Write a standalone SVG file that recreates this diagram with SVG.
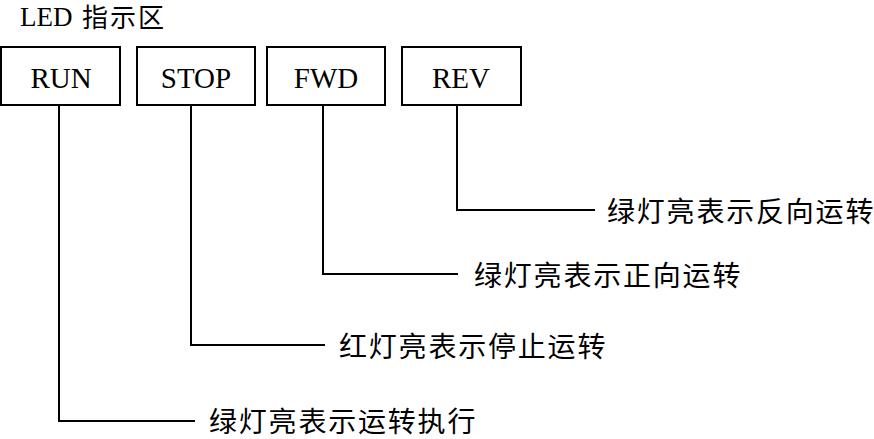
<svg xmlns="http://www.w3.org/2000/svg" width="874" height="439" viewBox="0 0 874 439">
<style>
.box{fill:#fff;stroke:#000;stroke-width:2}
.lbl{font-family:"Liberation Serif","Noto Sans CJK SC",serif;font-size:29px;fill:#000;text-anchor:middle}
.cn{font-family:"Noto Sans CJK SC","Noto Sans CJK JP",sans-serif;font-size:28px;letter-spacing:1.8px;fill:#000}
.conn{fill:none;stroke:#000;stroke-width:2}
</style>
<rect width="874" height="439" fill="#fff"/>
<g id="title">
<text x="20" y="26" font-family="'Liberation Serif',serif" font-size="27">LED</text>
<text x="82" y="27" font-family="'Noto Sans CJK SC',sans-serif" font-size="26" letter-spacing="2">指示区</text>
</g>
<g id="run"><rect class="box" x="1" y="47" width="119" height="58"/><text class="lbl" x="61" y="88">RUN</text></g>
<g id="stop"><rect class="box" x="137" y="47" width="118" height="58"/><text class="lbl" x="196" y="88">STOP</text></g>
<g id="fwd"><rect class="box" x="267" y="47" width="118" height="58"/><text class="lbl" x="326" y="88">FWD</text></g>
<g id="rev"><rect class="box" x="402" y="47" width="119" height="58"/><text class="lbl" x="461" y="88">REV</text></g>
<g id="connectors">
<polyline class="conn" points="457,105 457,210 595,210"/>
<polyline class="conn" points="323,105 323,274 458,274"/>
<polyline class="conn" points="191,105 191,345 325,345"/>
<polyline class="conn" points="59,105 59,421 195,421"/>
</g>
<g id="t-rev"><text class="cn" x="607" y="222">绿灯亮表示反向运转</text></g>
<g id="t-fwd"><text class="cn" x="474" y="286">绿灯亮表示正向运转</text></g>
<g id="t-stop"><text class="cn" x="339" y="357">红灯亮表示停止运转</text></g>
<g id="t-run"><text class="cn" x="209" y="432">绿灯亮表示运转执行</text></g>
</svg>
